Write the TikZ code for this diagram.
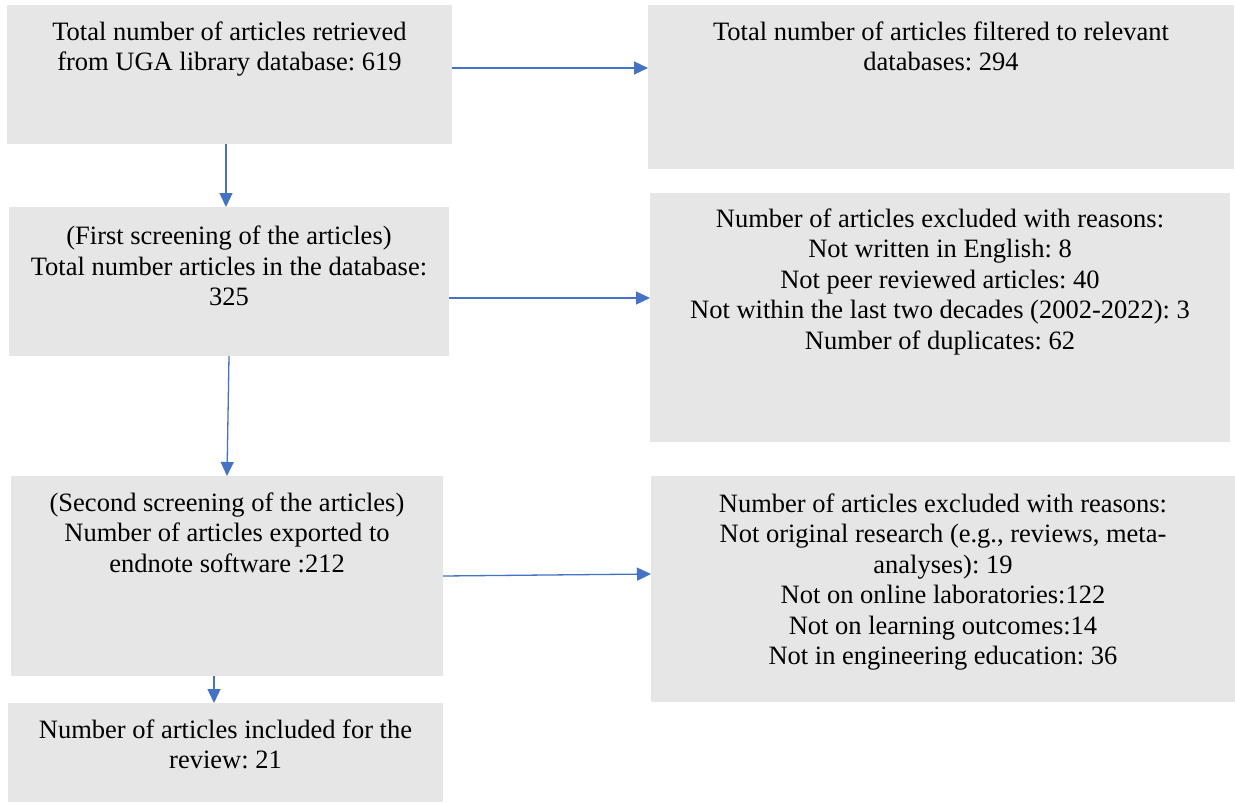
\documentclass[tikz,border=0pt]{standalone}
\usepackage{fontspec}
\setmainfont{Liberation Serif}
\usetikzlibrary{arrows.meta}
\definecolor{boxgray}{RGB}{230,230,230}
\definecolor{arrblue}{RGB}{68,114,196}
\newcommand\boxtext[4]{\parbox[t][#2][t]{#1}{\centering\frenchspacing\fontsize{26.5}{30.5}\selectfont\rule{0pt}{#3}#4}}
\begin{document}
\begin{tikzpicture}[x=1pt,y=1pt,
  flowbox/.style={fill=boxgray,inner sep=0pt,outer sep=0pt,anchor=north west},
  arr/.style={draw=arrblue,line width=1.3pt,-{Triangle[length=14pt,width=13pt]}}]
\path[use as bounding box,fill=white] (0,0) rectangle (1235,-803);
\node[flowbox] (b1) at (7,-5) {\boxtext{445pt}{139pt}{35pt}{Total number of articles retrieved\\from UGA library database: 619}};
\node[flowbox] (b2) at (648,-5) {\boxtext{586pt}{164pt}{35pt}{Total number of articles filtered to relevant\\databases: 294}};
\node[flowbox] (b3) at (9,-207) {\boxtext{440pt}{149pt}{37.5pt}{(First screening of the articles)\\Total number articles in the database:\\325}};
\node[flowbox] (b4) at (650,-193) {\boxtext{580pt}{249pt}{34pt}{Number of articles excluded with reasons:\\Not written in English: 8\\Not peer reviewed articles: 40\\Not within the last two decades (2002-2022): 3\\Number of duplicates: 62}};
\node[flowbox] (b5) at (11,-476) {\boxtext{432pt}{200pt}{35pt}{(Second screening of the articles)\\Number of articles exported to\\endnote software :212}};
\node[flowbox] (b6) at (651,-476) {\boxtext{584pt}{226pt}{36pt}{Number of articles excluded with reasons:\\Not original research (e.g., reviews, meta-\\analyses): 19\\Not on online laboratories:122\\Not on learning outcomes:14\\Not in engineering education: 36}};
\node[flowbox] (b7) at (8,-703) {\boxtext{435pt}{99pt}{35pt}{Number of articles included for the\\review: 21}};
\draw[arr] (b1.east |- 0,-68) -- (b2.west |- 0,-68);
\draw[arr] (b1.south -| 226,0) -- (b3.north -| 226,0);
\draw[arr] (b3.east |- 0,-298) -- (b4.west |- 0,-298);
\draw[arr] (b3.south -| 229,0) -- (b5.north -| 227,0);
\draw[arr] (b5.east |- 0,-576) -- (b6.west |- 0,-574);
\draw[arr] (b5.south -| 214,0) -- (b7.north -| 214,0);
\end{tikzpicture}
\end{document}
